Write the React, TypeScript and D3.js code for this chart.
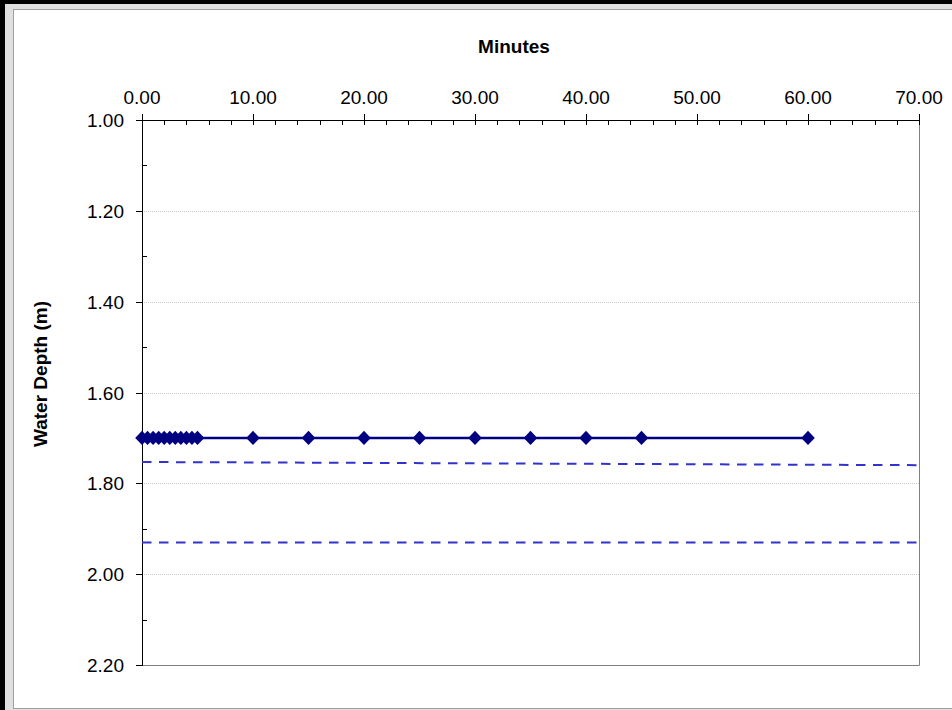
import React from "react";
import * as d3 from "d3";

const minutes = [0, 0.5, 1, 1.5, 2, 2.5, 3, 3.5, 4, 4.5, 5, 10, 15, 20, 25, 30, 35, 40, 45, 60];
const depth = [1.7, 1.7, 1.7, 1.7, 1.7, 1.7, 1.7, 1.7, 1.7, 1.7, 1.7, 1.7, 1.7, 1.7, 1.7, 1.7, 1.7, 1.7, 1.7, 1.7];
const upperLimitX = [0, 70];
const upperLimitY = [1.753, 1.76];
const lowerLimitX = [0, 70];
const lowerLimitY = [1.93, 1.93];
const xTicks = [0, 10, 20, 30, 40, 50, 60, 70];
const xMinorTicks = d3.range(0, 70.001, 2);
const yTicks = [1.0, 1.2, 1.4, 1.6, 1.8, 2.0, 2.2];
const yMinorTicks = [1.1, 1.3, 1.5, 1.7, 1.9, 2.1];

const W = 952;
const H = 710;
const L = 142, R = 919, T = 120, B = 665;
const FONT = "Liberation Sans, Arial, sans-serif";

export default function App() {
  const x = d3.scaleLinear().domain([0, 70]).range([L, R]);
  const y = d3.scaleLinear().domain([1.0, 2.2]).range([T, B]);
  const line = d3
    .line<[number, number]>()
    .x((d) => x(d[0]))
    .y((d) => y(d[1]));
  const mainPts: [number, number][] = minutes.map((m, i) => [m, depth[i]]);
  const upPts: [number, number][] = upperLimitX.map((m, i) => [m, upperLimitY[i]]);
  const loPts: [number, number][] = lowerLimitX.map((m, i) => [m, lowerLimitY[i]]);
  const diamond = (cx: number, cy: number) =>
    `M${cx},${cy - 7.2}L${cx + 6.8},${cy}L${cx},${cy + 7.2}L${cx - 6.8},${cy}Z`;

  return (
    <svg
      width={W}
      height={H}
      style={{ position: "absolute", left: 0, top: 0, display: "block" }}
    >
      <rect x={0} y={0} width={W} height={H} fill="#000" />
      <rect x={5} y={4} width={W - 5} height={H - 4} fill="#e0e0e0" />
      <rect x={13.5} y={9.5} width={W} height={699} fill="#fff" stroke="#a0a0a0" strokeWidth={1} />

      {/* gridlines */}
      {yTicks.slice(1, -1).map((t) => (
        <line
          key={"g" + t}
          x1={L}
          x2={R}
          y1={Math.round(y(t)) + 0.5}
          y2={Math.round(y(t)) + 0.5}
          stroke="#c8c8c8"
          strokeWidth={1}
          strokeDasharray="1,1"
        />
      ))}

      {/* plot border right/bottom */}
      <line x1={R + 0.5} x2={R + 0.5} y1={T} y2={B + 0.5} stroke="#808080" strokeWidth={1} />
      <line x1={L} x2={R + 0.5} y1={B + 0.5} y2={B + 0.5} stroke="#808080" strokeWidth={1} />

      {/* top axis */}
      <line x1={L} x2={R + 0.5} y1={T + 0.5} y2={T + 0.5} stroke="#000" strokeWidth={1} />
      {xMinorTicks.map((t) => (
        <line
          key={"xm" + t}
          x1={Math.round(x(t)) + 0.5}
          x2={Math.round(x(t)) + 0.5}
          y1={T}
          y2={T + 5}
          stroke="#000"
          strokeWidth={1}
        />
      ))}
      {xTicks.map((t) => (
        <g key={"x" + t}>
          <line
            x1={Math.round(x(t)) + 0.5}
            x2={Math.round(x(t)) + 0.5}
            y1={T - 6}
            y2={T + 5}
            stroke="#000"
            strokeWidth={1}
          />
          <text
            x={x(t)}
            y={104}
            textAnchor="middle"
            fontFamily={FONT}
            fontSize={19}
            fill="#000"
          >
            {t.toFixed(2)}
          </text>
        </g>
      ))}

      {/* left axis */}
      <line x1={L + 0.5} x2={L + 0.5} y1={T} y2={B + 1} stroke="#000" strokeWidth={1} />
      {yMinorTicks.map((t) => (
        <line
          key={"ym" + t}
          x1={L}
          x2={L + 5}
          y1={Math.round(y(t)) + 0.5}
          y2={Math.round(y(t)) + 0.5}
          stroke="#000"
          strokeWidth={1}
        />
      ))}
      {yTicks.map((t) => (
        <g key={"y" + t}>
          <line
            x1={L - 6}
            x2={L}
            y1={Math.round(y(t)) + 0.5}
            y2={Math.round(y(t)) + 0.5}
            stroke="#000"
            strokeWidth={1}
          />
          <text
            x={124}
            y={y(t) + 7}
            textAnchor="end"
            fontFamily={FONT}
            fontSize={19}
            fill="#000"
          >
            {t.toFixed(2)}
          </text>
        </g>
      ))}

      {/* limit lines */}
      <path
        d={line(upPts) || ""}
        fill="none"
        stroke="#3333cc"
        strokeWidth={2}
        strokeDasharray="9.5,7.5"
      />
      <path
        d={line(loPts) || ""}
        fill="none"
        stroke="#3333cc"
        strokeWidth={2}
        strokeDasharray="9.5,7.5"
      />

      {/* main series */}
      <path d={line(mainPts) || ""} fill="none" stroke="#000080" strokeWidth={2.5} />
      {mainPts.map((p, i) => (
        <path key={"m" + i} d={diamond(x(p[0]), y(p[1]))} fill="#000080" />
      ))}

      {/* titles */}
      <text
        x={514}
        y={53}
        textAnchor="middle"
        fontFamily={FONT}
        fontSize={19}
        fontWeight="bold"
        fill="#000"
      >
        Minutes
      </text>
      <text
        transform={`translate(47,374) rotate(-90)`}
        textAnchor="middle"
        fontFamily={FONT}
        fontSize={19}
        fontWeight="bold"
        fill="#000"
      >
        Water Depth (m)
      </text>
    </svg>
  );
}
